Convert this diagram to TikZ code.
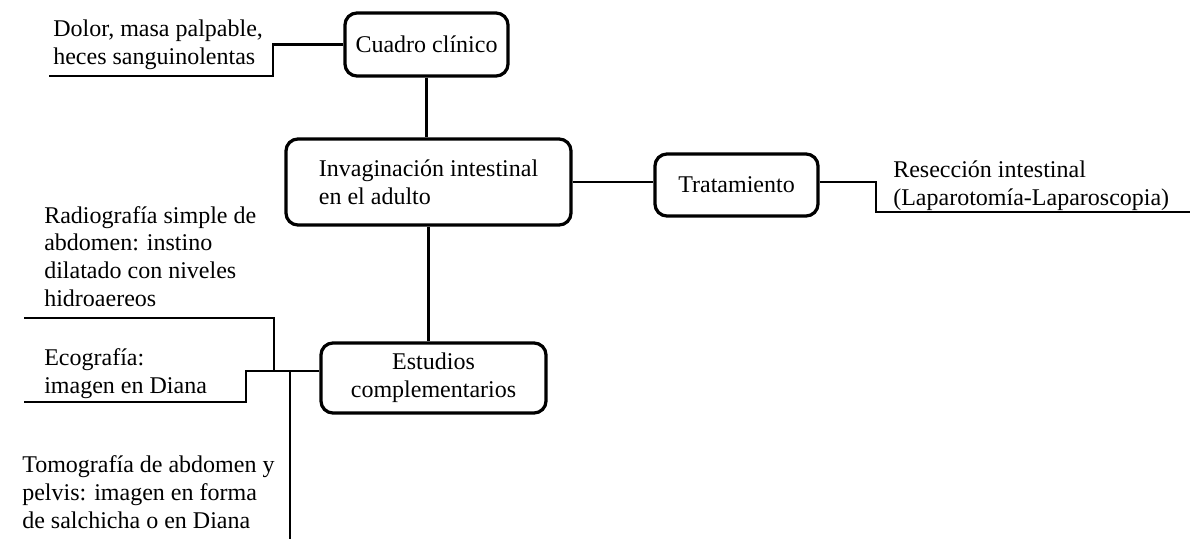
\documentclass[tikz,border=0pt]{standalone}
\usepackage{fontspec}
\setmainfont{Liberation Serif}
\tikzset{
  caja/.style={draw, line width=2.3pt, rounded corners=0.3cm, align=center, inner sep=0pt},
  texto/.style={anchor=base west, align=left, inner sep=0pt},
  linea/.style={line width=1.9pt},
}
\begin{document}
\begin{tikzpicture}[x=0.025cm,y=-0.025cm,font=\fontsize{17.07}{19.6}\selectfont]
  \useasboundingbox (0,0) rectangle (1190,539);
  %\draw (0,0) rectangle (1190,539);
  \coordinate (C) at (426.5,44.5);
  \coordinate (I) at (428.5,182);
  \coordinate (T) at (736.5,185);
  \coordinate (E) at (433.5,378);
  \node [caja,minimum width=4.075cm,minimum height=1.575cm] (cuadro) at (C) {Cuadro clínico};
  \node [caja,minimum width=7.125cm,minimum height=2.15cm,align=left] (invag) at (I) {Invaginación intestinal\\en el adulto};
  \node [caja,minimum width=4.075cm,minimum height=1.55cm] (trat) at (T) {Tratamiento};
  \node [caja,minimum width=5.625cm,minimum height=1.75cm] (estud) at (E) {Estudios\\complementarios};
  % base = baseline of the last line
  \node [texto] (dolor) at (53,64) {Dolor, masa palpable,\\heces sanguinolentas};
  \node [texto] (resec) at (893,205) {Resección intestinal\\(Laparotomía-Laparoscopia)};
  \node [texto] (radio) at (44,306) {Radiografía simple de\\abdomen: instino\\dilatado con niveles\\hidroaereos};
  \node [texto] (eco) at (44,393) {Ecografía:\\imagen en Diana};
  \node [texto] (tomo) at (22,528) {Tomografía de abdomen y\\pelvis: imagen en forma\\de salchicha o en Diana};
  \coordinate (d1) at (273,76);
  \coordinate (d0) at (49,76);
  \coordinate (r1) at (876,212);
  \coordinate (r0) at (1190,212);
  \coordinate (ra) at (24,318);
  \coordinate (rb) at (274,318);
  \coordinate (jn) at (246,371);
  \coordinate (eb) at (24,402);
  \coordinate (tm) at (290,539);
  \draw [linea] (cuadro.south) -- (cuadro.south |- invag.north);
  \draw [linea] (invag.south) -- (invag.south |- estud.north);
  \draw [linea] (invag.east) -- (invag.east -| trat.west);
  \draw [linea] (cuadro.west) -| (d1) -- (d0);
  \draw [linea] (trat.east |- invag.east) -| (r1) -- (r0);
  \draw [linea] (ra) -- (rb) -- (rb |- jn);
  \draw [linea] (estud.west |- jn) -- (jn) |- (eb);
  \draw [linea] (tm |- jn) -- (tm);
\end{tikzpicture}
\end{document}
